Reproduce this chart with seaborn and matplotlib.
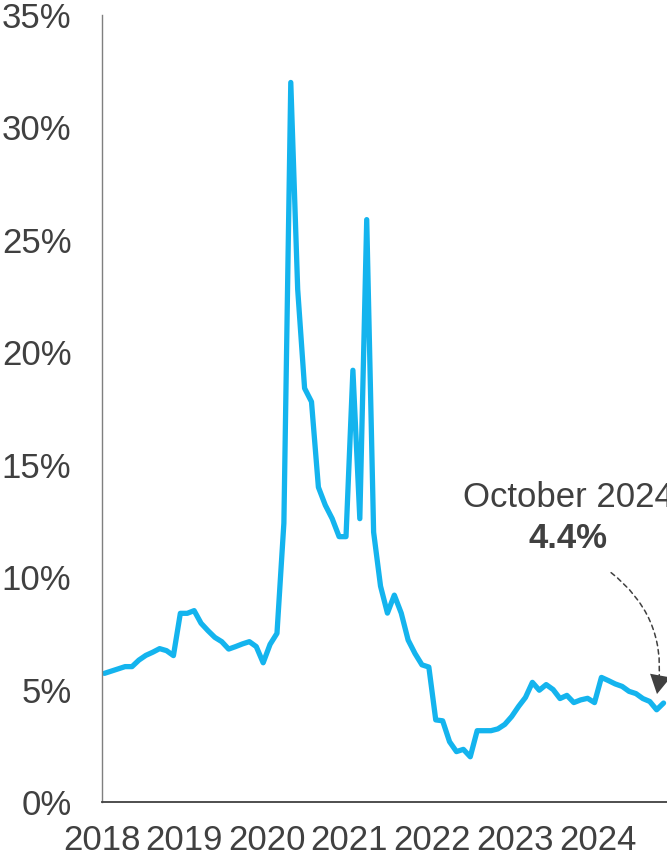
import numpy as np
import pandas as pd
import matplotlib
matplotlib.use("Agg")
import matplotlib.pyplot as plt
import seaborn as sns

# Monthly rate, January 2018 through October 2024 (percent)
rate = [
    5.72, 5.82, 5.92, 6.02, 6.02, 6.31, 6.52, 6.66, 6.82, 6.73, 6.51, 8.39,   # 2018
    8.39, 8.51, 7.95, 7.62, 7.32, 7.13, 6.80, 6.91, 7.03, 7.13, 6.91, 6.19,   # 2019
    7.01, 7.50, 12.4, 32.0, 22.8, 18.4, 17.8, 14.0, 13.2, 12.6, 11.8, 11.8,   # 2020
    19.2, 12.6, 25.9, 12.0, 9.6, 8.4, 9.2, 8.4, 7.2, 6.6, 6.1, 6.0,           # 2021
    3.65, 3.61, 2.68, 2.24, 2.34, 2.01, 3.17, 3.17, 3.17, 3.25, 3.45, 3.8,    # 2022
    4.25, 4.65, 5.32, 4.97, 5.22, 5.0, 4.6, 4.74, 4.42, 4.54, 4.61, 4.42,     # 2023
    5.54, 5.4, 5.25, 5.14, 4.92, 4.82, 4.6, 4.47, 4.1, 4.4,                   # 2024
]
year_labels = ["2018", "2019", "2020", "2021", "2022", "2023", "2024"]
y_ticks = [0, 5, 10, 15, 20, 25, 30, 35]
y_tick_labels = [f"{v}%" for v in y_ticks]
latest_label = "October 2024"
latest_value = rate[-1]

df = pd.DataFrame({"month": np.arange(len(rate)), "rate": rate})

sns.set_style("white")
plt.rcParams["font.family"] = ["Liberation Sans", "DejaVu Sans"]

text_color = "#404040"
line_color = "#14B4EE"
font_size = 25

fig = plt.figure(figsize=(6.67, 8.58), dpi=100)
ax = fig.add_axes([0.1529, 0.0653, 0.8471, 0.9172])

sns.lineplot(data=df, x="month", y="rate", ax=ax, color=line_color,
             linewidth=3.8, solid_capstyle="round", solid_joinstyle="round")

x_left, x_right = -0.35, 81.5
ax.set_xlim(x_left, x_right)
ax.set_ylim(0, 35)

ax.set_yticks(y_ticks)
ax.set_yticklabels(y_tick_labels)
ax.set_xticks([x_left] + [11.5 + 12 * k for k in range(6)])
ax.set_xticklabels(year_labels)

ax.set_xlabel("")
ax.set_ylabel("")

for side in ("top", "right"):
    ax.spines[side].set_visible(False)
ax.spines["left"].set_color("#7f7f7f")
ax.spines["left"].set_linewidth(1.0)
ax.spines["bottom"].set_color("#404040")
ax.spines["bottom"].set_linewidth(1.3)

ax.tick_params(axis="y", direction="in", length=7, width=1.0, color="#7f7f7f",
               labelsize=font_size, labelcolor=text_color, pad=22)
ax.tick_params(axis="x", direction="in", length=8, width=1.0, color="#404040",
               labelsize=font_size, labelcolor=text_color, pad=16)

# Callout for the latest reading
ax.text(67.2, 13.56, latest_label, ha="center", va="center", fontsize=font_size,
        color=text_color)
ax.text(67.2, 11.74, f"{latest_value:.1f}%", ha="center", va="center",
        fontsize=font_size, fontweight="bold", color=text_color)

# Dashed curved pointer, with a solid head drawn along the same path
pointer = dict(xy=(80.05, 4.8), xytext=(73.4, 10.2), textcoords="data")
curve = "arc3,rad=-0.3"
ax.annotate("", **pointer,
            arrowprops=dict(arrowstyle="-", linestyle=(0, (3, 2.5)),
                            connectionstyle=curve, color=text_color, lw=1.1,
                            shrinkA=0, shrinkB=9))
ax.annotate("", **pointer,
            arrowprops=dict(arrowstyle="-|>,head_length=0.45,head_width=0.25",
                            connectionstyle=curve, facecolor=text_color,
                            edgecolor="none", lw=0, mutation_scale=30,
                            shrinkA=0, shrinkB=0))

fig.savefig("out.png", dpi=100)
